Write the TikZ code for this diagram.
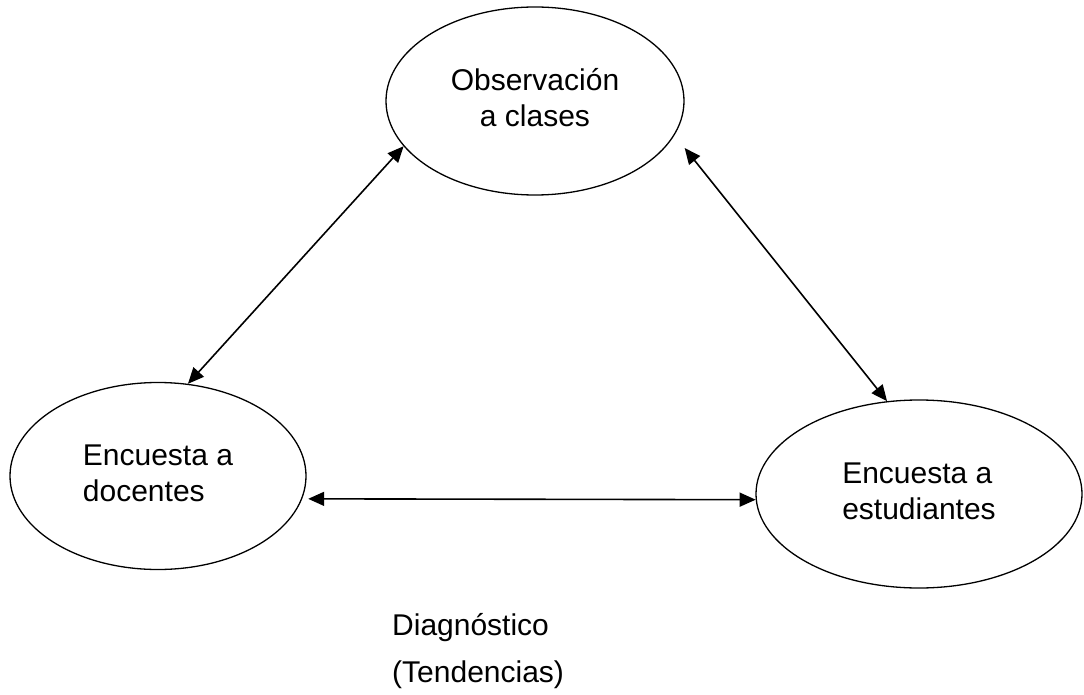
\documentclass[tikz,border=0pt]{standalone}
\usepackage{fontspec}
\setmainfont{Liberation Sans}
\usetikzlibrary{shapes.geometric}
\usetikzlibrary{arrows.meta}
\newcommand{\txt}{\fontsize{30}{36}\selectfont}

\begin{document}
\begin{tikzpicture}[x=1pt,y=-1pt,
    oval/.style={ellipse,draw,line width=1.3pt,inner sep=0pt,font=\txt,align=left},
    link/.style={line width=1.6pt,{Triangle[length=16pt,width=14pt]}-{Triangle[length=16pt,width=14pt]}}]
    % Background
    \useasboundingbox[fill=white] (0,0) rectangle (1084,695);
    % Ovals
    \node[oval,minimum width=298pt,minimum height=188pt] (obs) at (535,101)
      {\raisebox{5pt}{\begin{tabular}{@{}c@{}}Observación\\a clases\end{tabular}}};
    \node[oval,minimum width=296pt,minimum height=187pt] (doc) at (158,476)
      {\raisebox{-5pt}{\begin{tabular}{@{}l@{}}Encuesta a\\docentes\end{tabular}}};
    \node[oval,minimum width=326pt,minimum height=188pt] (est) at (919,494)
      {\begin{tabular}{@{}l@{}}Encuesta a\\estudiantes\end{tabular}};
    % Links
    \draw[link] (obs.199) -- (doc.72);
    \draw[link] ([yshift=-47pt]obs.east) -- (est.109);
    \draw[link] ([xshift=6pt]doc.351) -- (est.182);
    % Caption
    \node[anchor=base west,font=\txt,inner sep=0pt] (diag) at (392,635) {Diagnóstico};
    \node[anchor=base west,font=\txt,inner sep=0pt] (tend) at (392,682) {(Tendencias)};
  \end{tikzpicture}
\end{document}
